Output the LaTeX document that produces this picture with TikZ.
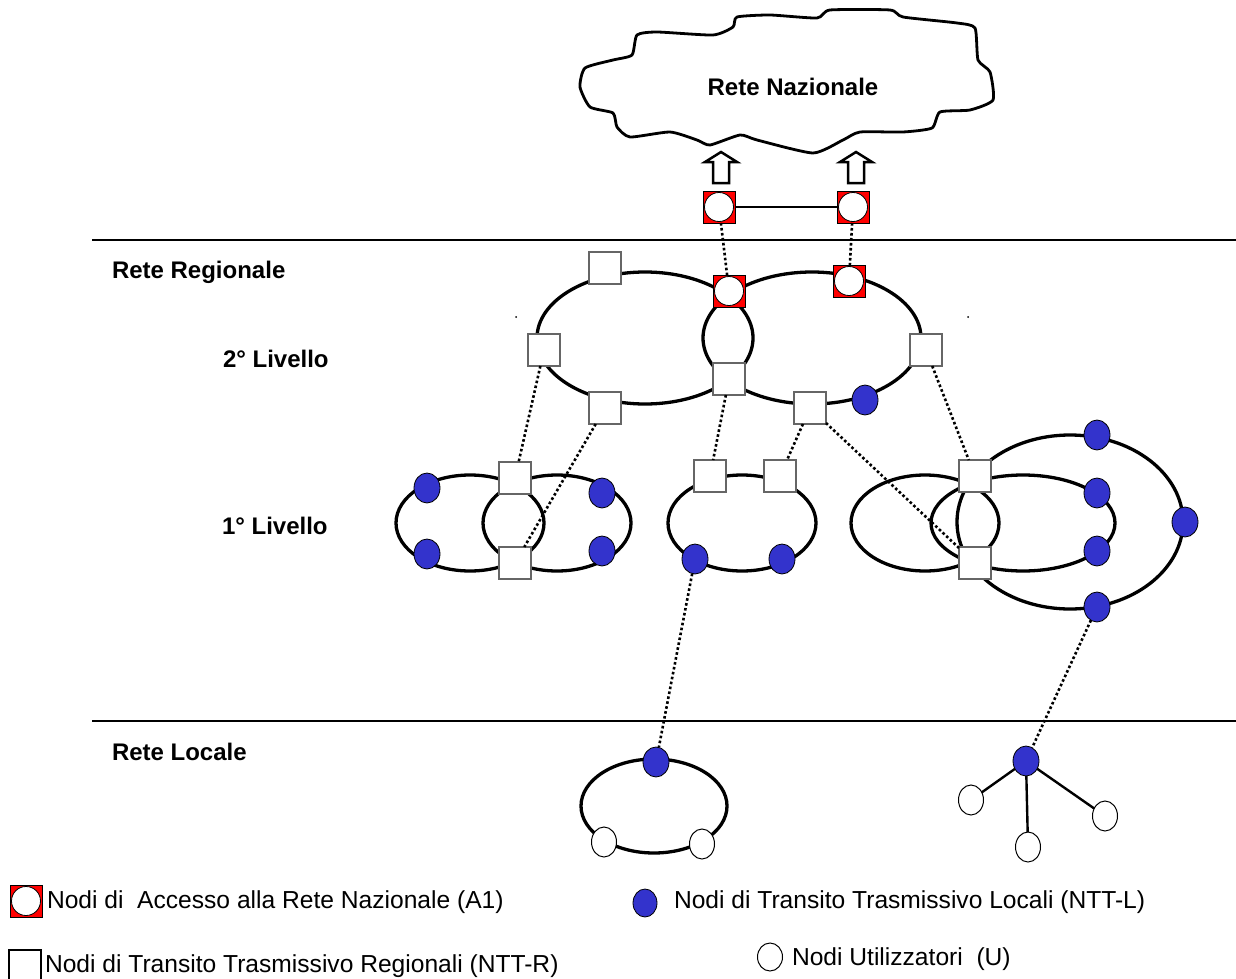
\documentclass[tikz,border=0pt]{standalone}
\usepackage{fontspec}
\setmainfont{Liberation Sans}
\usetikzlibrary{shapes,shapes.geometric,calc}
\definecolor{nttblue}{RGB}{51,51,204}
\tikzset{
    % dotted link between the levels
    dlink/.style={
           line width=2.6pt,
           dash pattern=on 2.6pt off 2.4pt,
           color=black},
    % ring of a network
    ring/.style={
           draw=black,
           line width=3.3pt}
}
\newcommand{\boxsize}{32pt}

\begin{document}
\begin{tikzpicture}[x=1pt, y=-1pt, outer sep=0pt]
\tikzstyle{nttr}=[draw=black!60, fill=white, rectangle, line width=1.2pt,
                  minimum size=\boxsize, inner sep=0pt]
\tikzstyle{acc}=[draw=black, fill=red, rectangle, line width=0.8pt,
                  minimum size=\boxsize, inner sep=0pt,
                  path picture={\draw[fill=white, line width=0.8pt] (path picture bounding box.center) circle (14.5pt);}]
\tikzstyle{nttl}=[draw=black, fill=nttblue, ellipse, line width=0.8pt,
                  minimum width=26pt, minimum height=30pt, inner sep=0pt]
\tikzstyle{usr}=[draw=black, fill=white, ellipse, line width=1pt,
                  minimum width=25pt, minimum height=30pt, inner sep=0pt]
\tikzstyle{txt}=[anchor=base west, inner sep=0pt, font=\fontsize{24.6}{28}\selectfont]
\tikzstyle{btxt}=[txt, font=\fontsize{24}{28}\selectfont\bfseries]

\useasboundingbox (0,0) rectangle (1236,979);

%%%%%%%%%%%%%%%%%%%%%%%%%%%%%%%%%
% Rete Nazionale
%%%%%%%%%%%%%%%%%%%%%%%%%%%%%%%%%
\draw[line width=2.8pt, line join=round] plot[smooth cycle, tension=0.35] coordinates {
    (580,87) (585,68) (613,60) (632,55) (637,35) (657,32) (713,35) (733,27)
    (737,17) (770,15) (817,18) (830,10) (890,10) (903,17) (957,23) (975,28)
    (978,60) (990,72) (993,100) (970,110) (940,112) (932,128) (903,132)
    (860,132) (843,140) (813,153) (757,140) (740,135) (710,145) (697,140)
    (670,132) (630,137) (617,127) (613,113) (590,107)};
\node[btxt, anchor=base] (natlabel) at (793,96) {Rete Nazionale};

\foreach \ax in {721,856}
    \draw[line width=2.5pt, line join=miter, fill=white] (\ax,152) -- (\ax+16,162) -- (\ax+8,162)
        -- (\ax+8,183) -- (\ax-8,183) -- (\ax-8,162) -- (\ax-16,162) -- cycle;

\node[acc] (accL) at (719,207) {};
\node[acc] (accR) at (853,207) {};
\draw[line width=1.2pt] (accL) -- (accR);

\draw[line width=1.2pt] (92,240) -- (1236,240);
\draw[line width=1.2pt] (92,721) -- (1236,721);

\node[btxt] (lblreg) at (112,278) {Rete Regionale};
\node[btxt] (lbltwo) at (223,367) {2° Livello};
\node[btxt] (lblone) at (222,534) {1° Livello};
\node[btxt] (lblloc) at (112,760) {Rete Locale};

%%%%%%%%%%%%%%%%%%%%%%%%%%%%%%%%%
% 2° Livello
%%%%%%%%%%%%%%%%%%%%%%%%%%%%%%%%%
\draw[ring] (645,338) ellipse [x radius=108, y radius=66];
\draw[ring] (812,338) ellipse [x radius=109, y radius=66];
\fill (516,317) circle (1pt);
\fill (968,317) circle (1pt);

\node[nttr] (rtop) at (605,268) {};
\node[nttr] (rleft) at (544,350) {};
\node[nttr] (rbotl) at (605,408) {};
\node[acc]  (accC) at (729,291) {};
\node[nttr] (rbotc) at (729,379) {};
\node[acc]  (accE) at (849,281) {};
\node[nttr] (rright) at (926,350) {};
\node[nttr] (rbotr) at (810,408) {};
\node[nttl] (lreg) at (865,400) {};

%%%%%%%%%%%%%%%%%%%%%%%%%%%%%%%%%
% 1° Livello
%%%%%%%%%%%%%%%%%%%%%%%%%%%%%%%%%
\draw[ring] (470,523) ellipse [x radius=74, y radius=48];
\draw[ring] (557,523) ellipse [x radius=74, y radius=48];
\draw[ring] (742,523) ellipse [x radius=74, y radius=48];
\draw[ring] (925,523) ellipse [x radius=74, y radius=48];
\draw[ring] (1023,523) ellipse [x radius=92, y radius=48];
\draw[ring] (1070,522) ellipse [x radius=113, y radius=87];

\node[nttr] (atop) at (515,478) {};
\node[nttr] (abot) at (515,563) {};
\node[nttl] (a1) at (427,488) {};
\node[nttl] (a2) at (427,554) {};
\node[nttl] (a3) at (602,493) {};
\node[nttl] (a4) at (602,551) {};

\node[nttr] (bleft) at (710,476) {};
\node[nttr] (bright) at (780,476) {};
\node[nttl] (b1) at (695,559) {};
\node[nttl] (b2) at (782,559) {};

\node[nttr] (ctop) at (975,476) {};
\node[nttr] (cbot) at (975,563) {};
\node[nttl] (c1) at (1097,435) {};
\node[nttl] (c2) at (1097,493) {};
\node[nttl] (c3) at (1097,551) {};
\node[nttl] (c4) at (1097,607) {};
\node[nttl] (c5) at (1185,522) {};

%%%%%%%%%%%%%%%%%%%%%%%%%%%%%%%%%
% Rete Locale
%%%%%%%%%%%%%%%%%%%%%%%%%%%%%%%%%
\draw[ring] (654,806) ellipse [x radius=73, y radius=47];
\node[nttl] (lring) at (656,762) {};
\node[usr] (u1) at (604,842) {};
\node[usr] (u2) at (702,844) {};

\node[nttl] (lstar) at (1026,761) {};
\node[usr] (u3) at (971,800) {};
\node[usr] (u4) at (1028,847) {};
\node[usr] (u5) at (1105,816) {};
\foreach \u in {u3,u4,u5}
    \draw[line width=2.4pt] (lstar) -- (\u);

% links between levels
\path[dlink] (accL) edge (accC);
\path[dlink] (accR) edge (accE);
\path[dlink] (rleft) edge (atop);
\path[dlink] (rbotl) edge (abot);
\path[dlink] (rbotc) edge (bleft);
\path[dlink] (rbotr) edge (bright);
\path[dlink] (rbotr) edge (cbot);
\path[dlink] (rright) edge (ctop);
\path[dlink] (b1) edge (lring);
\path[dlink] (c4) edge (lstar);

%%%%%%%%%%%%%%%%%%%%%%%%%%%%%%%%%
% Legenda
%%%%%%%%%%%%%%%%%%%%%%%%%%%%%%%%%
\node[acc] (legacc) at (26,901) {};
\node[txt] (txtacc) at (47,908) {Nodi di\ \ Accesso alla Rete Nazionale (A1)};
\node[nttr, draw=black] (legr) at (25,966) {};
\node[txt] (txtr) at (45,972) {Nodi di Transito Trasmissivo Regionali (NTT-R)};
\node[nttl, minimum width=24pt, minimum height=28pt] (legl) at (645,903) {};
\node[txt] (txtl) at (674,908) {Nodi di Transito Trasmissivo Locali (NTT-L)};
\node[usr, minimum height=28pt] (legu) at (770,957) {};
\node[txt] (txtu) at (792,965) {Nodi Utilizzatori\ \ (U)};

\end{tikzpicture}
\end{document}
